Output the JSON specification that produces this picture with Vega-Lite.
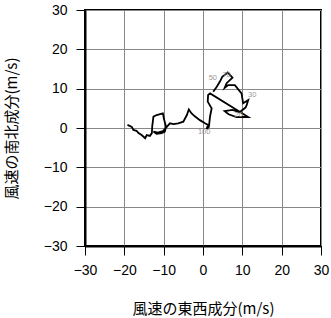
{
  "$schema": "https://vega.github.io/schema/vega-lite/v6.json",
  "width": 236,
  "height": 236,
  "autosize": "none",
  "padding": {"left": 85, "top": 10, "right": 10, "bottom": 72},
  "background": "white",
  "config": {
    "view": {"stroke": "#000", "strokeWidth": 2},
    "axis": {
      "domainColor": "#000",
      "domainWidth": 2,
      "tickColor": "#000",
      "tickSize": 9,
      "tickWidth": 1,
      "labelFont": "Liberation Sans",
      "labelFontSize": 14,
      "labelColor": "#000",
      "labelOverlap": false,
      "labelFlush": false,
      "gridColor": "#888",
      "gridWidth": 1,
      "titleFont": "Noto Sans CJK JP",
      "titleFontSize": 15,
      "titleFontWeight": "normal",
      "titleColor": "#000"
    }
  },
  "datasets": {
    "path": [
      {"i": 1, "u": -19.2, "v": 0.8},
      {"i": 2, "u": -18.1, "v": 0.3},
      {"i": 3, "u": -17.7, "v": -0.5},
      {"i": 4, "u": -16.9, "v": -0.7},
      {"i": 5, "u": -16.4, "v": -1.3},
      {"i": 6, "u": -15.6, "v": -1.8},
      {"i": 7, "u": -14.7, "v": -2.6},
      {"i": 8, "u": -14.3, "v": -1.8},
      {"i": 9, "u": -13.5, "v": -2.0},
      {"i": 10, "u": -13.0, "v": -1.3},
      {"i": 11, "u": -12.9, "v": 0.5},
      {"i": 12, "u": -12.6, "v": 2.9},
      {"i": 13, "u": -11.8, "v": 3.3},
      {"i": 14, "u": -10.2, "v": 3.7},
      {"i": 15, "u": -9.9, "v": 2.2},
      {"i": 16, "u": -9.4, "v": 0.3},
      {"i": 17, "u": -9.7, "v": -0.9},
      {"i": 18, "u": -10.5, "v": -1.3},
      {"i": 19, "u": -11.8, "v": -1.5},
      {"i": 20, "u": -12.6, "v": -0.9},
      {"i": 21, "u": -11.5, "v": -1.2},
      {"i": 22, "u": -10.2, "v": -0.8},
      {"i": 23, "u": -9.2, "v": 0.3},
      {"i": 24, "u": -8.4, "v": 1.2},
      {"i": 25, "u": -7.5, "v": 1.0},
      {"i": 26, "u": -6.3, "v": 1.2},
      {"i": 27, "u": -5.0, "v": 1.6},
      {"i": 28, "u": -4.1, "v": 3.3},
      {"i": 29, "u": -3.6, "v": 4.7},
      {"i": 30, "u": -2.9, "v": 3.7},
      {"i": 31, "u": -2.0, "v": 2.9},
      {"i": 32, "u": -0.8, "v": 2.0},
      {"i": 33, "u": 0.5, "v": 1.2},
      {"i": 34, "u": 1.3, "v": 0.8},
      {"i": 35, "u": 0.9, "v": -0.3},
      {"i": 36, "u": 1.5, "v": 0.3},
      {"i": 37, "u": 1.8, "v": 3.0},
      {"i": 38, "u": 2.2, "v": 5.0},
      {"i": 39, "u": 1.2, "v": 6.7},
      {"i": 40, "u": 1.3, "v": 8.4},
      {"i": 41, "u": 1.8, "v": 8.8},
      {"i": 42, "u": 11.5, "v": 2.8},
      {"i": 43, "u": 8.5, "v": 2.8},
      {"i": 44, "u": 6.5, "v": 3.5},
      {"i": 45, "u": 5.5, "v": 4.3},
      {"i": 46, "u": 7.5, "v": 4.6},
      {"i": 47, "u": 9.3, "v": 4.0},
      {"i": 48, "u": 10.8, "v": 5.2},
      {"i": 49, "u": 11.1, "v": 5.8},
      {"i": 50, "u": 11.5, "v": 7.1},
      {"i": 51, "u": 10.2, "v": 6.3},
      {"i": 52, "u": 9.8, "v": 8.8},
      {"i": 53, "u": 8.1, "v": 10.9},
      {"i": 54, "u": 6.4, "v": 10.9},
      {"i": 55, "u": 5.5, "v": 10.2},
      {"i": 56, "u": 6.0, "v": 11.4},
      {"i": 57, "u": 7.5, "v": 12.8},
      {"i": 58, "u": 6.3, "v": 14.1},
      {"i": 59, "u": 4.9, "v": 13.0},
      {"i": 60, "u": 4.3, "v": 11.8},
      {"i": 61, "u": 3.5, "v": 10.5},
      {"i": 62, "u": 2.6, "v": 9.2}
    ],
    "labels": [
      {"u": 0.3, "v": -1.0, "t": "100"},
      {"u": 2.5, "v": 12.8, "t": "50"},
      {"u": 6.0, "v": 13.4, "t": "70"},
      {"u": 12.5, "v": 8.3, "t": "30"},
      {"u": 9.0, "v": 3.4, "t": "20"}
    ]
  },
  "encoding": {
    "x": {
      "field": "u", "type": "quantitative",
      "scale": {"domain": [-30, 30], "nice": false},
      "axis": {
        "values": [-30, -20, -10, 0, 10, 20, 30],
        "title": "風速の東西成分(m/s)",
        "labelPadding": 8,
        "titleX": 118, "titleY": 62,
        "titleBaseline": "middle", "titleAlign": "center"
      }
    },
    "y": {
      "field": "v", "type": "quantitative",
      "scale": {"domain": [-30, 30], "nice": false},
      "axis": {
        "values": [-30, -20, -10, 0, 10, 20, 30],
        "title": "風速の南北成分(m/s)",
        "labelPadding": 9,
        "titleX": -74, "titleY": 118,
        "titleBaseline": "middle", "titleAlign": "center"
      }
    }
  },
  "layer": [
    {
      "data": {"name": "path"},
      "mark": {"type": "line", "color": "#000", "strokeWidth": 1.8},
      "encoding": {
        "order": {"field": "i", "type": "quantitative"}
      }
    },
    {
      "data": {"name": "labels"},
      "mark": {"type": "text", "fontSize": 7.5, "fill": "#999", "font": "Liberation Sans"},
      "encoding": {
        "text": {"field": "t"}
      }
    }
  ]
}
